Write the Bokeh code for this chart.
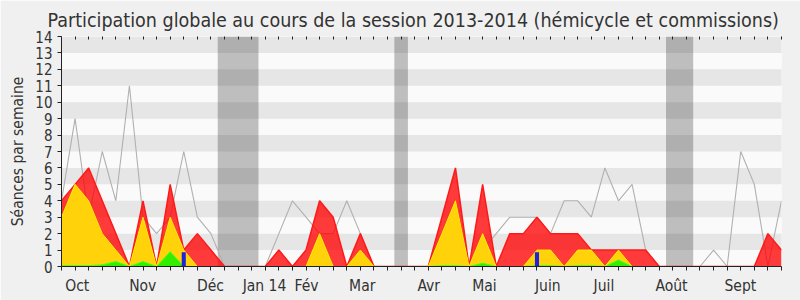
from bokeh.plotting import figure
from bokeh.models import Range1d, FixedTicker, LinearAxis, ColumnDataSource
from bokeh.embed import file_html
from bokeh.resources import INLINE

# ---- data (one value per week, session 2013-2014) ----
weeks = list(range(54))
presences = [4, 5, 6, 4, 2, 0, 4, 0, 5, 1, 2, 1, 0, 0, 0, 0, 1, 0, 1, 4,
             3, 0, 2, 0, 0, 0, 0, 0, 3, 6, 0, 5, 0, 2, 2, 3, 2, 2, 2, 1,
             1, 1, 1, 1, 0, 0, 0, 0, 0, 0, 0, 0, 2, 1]
participations = [3, 5, 4, 2, 1, 0, 3, 0, 3, 1, 0, 0, 0, 0, 0, 0, 0, 0, 0, 2,
                  0, 0, 1, 0, 0, 0, 0, 0, 2, 4, 0, 2, 0, 0, 0, 1, 1, 0, 1, 1,
                  0, 1, 0, 0, 0, 0, 0, 0, 0, 0, 0, 0, 0, 0]
interventions = [0.05, 0.05, 0.05, 0.1, 0.3, 0, 0.3, 0, 0.9, 0, 0, 0, 0, 0, 0, 0, 0, 0, 0, 0,
                 0, 0, 0, 0, 0, 0, 0, 0, 0.05, 0.05, 0, 0.2, 0, 0, 0, 0.05, 0.05, 0, 0.05, 0.05,
                 0, 0.4, 0, 0, 0, 0, 0, 0, 0, 0, 0, 0, 0, 0]
questions = [0, 0, 0, 0, 0, 0, 0, 0, 0, 0.87, 0, 0, 0, 0, 0, 0, 0, 0, 0, 0,
             0, 0, 0, 0, 0, 0, 0, 0, 0, 0, 0, 0, 0, 0, 0, 0.87, 0, 0, 0, 0,
             0, 0, 0, 0, 0, 0, 0, 0, 0, 0, 0, 0, 0, 0]
mediane = [4, 9, 3, 7, 4, 11, 3, 2, 3, 7, 3, 2, 0, 0, 0, 0, 2, 4, 3, 2,
           2, 4, 2, 0, 0, 0, 0, 0, 2, 4, 0, 1, 2, 3, 3, 3, 2, 4, 4, 3,
           6, 4, 5, 1, 0, 0, 0, 0, 1, 0, 7, 5, 0, 4]
vacances_debut = [11.5, 24.5, 44.5]
vacances_fin = [14.5, 25.5, 46.5]
mois_labels = ["Oct", "Nov", "Déc", "Jan 14", "Fév", "Mar", "Avr", "Mai", "Juin", "Juil", "Août", "Sept"]
mois_pos = [1.16, 5.98, 10.97, 14.94, 18.04, 22.14, 27.03, 31.13, 35.8, 39.93, 44.9, 49.97]
y_ticks = list(range(15))

FONT = "DejaVu Sans Condensed"

src = ColumnDataSource(dict(x=weeks, red=presences, yel=participations, grn=interventions,
                            blu=questions, med=mediane, zero=[0] * len(weeks)))

p = figure(width=800, height=300, x_range=Range1d(0, 53), y_range=Range1d(0, 14),
           output_backend="svg", toolbar_location=None,
           min_border_left=61, min_border_right=19, min_border_top=36, min_border_bottom=34)
p.border_fill_color = "#f0f0f0"
p.background_fill_color = "#fafafa"
p.outline_line_color = None
p.xgrid.visible = False
p.ygrid.visible = False

p.title.text = "Participation globale au cours de la session 2013-2014 (hémicycle et commissions)"
p.title.text_font = FONT
p.title.text_font_size = "19.5px"
p.title.text_font_style = "normal"
p.title.text_color = "#333333"
p.title.align = "left"
p.title.offset = -14

# stripes
odd = [v for v in y_ticks[1::2]]
p.quad(left=-1, right=54, bottom=odd, top=[v + 1 for v in odd], fill_color="#e6e6e6", line_color=None)
# holidays
p.quad(left=vacances_debut, right=vacances_fin, bottom=0, top=14, fill_color="black",
       fill_alpha=0.24, line_color=None)

# median line
p.line("x", "med", source=src, line_color="#b0b0b0", line_width=1.1)
# presences (red)
p.varea(x="x", y1="zero", y2="red", source=src, fill_color="#ff0000", fill_alpha=0.77)
p.line("x", "red", source=src, line_color="#ff1a1a", line_width=1.5)
# participations (yellow)
p.varea(x="x", y1="zero", y2="yel", source=src, fill_color="#ffd20a")
p.line("x", "yel", source=src, line_color="#ffee00", line_width=1)
# interventions (green)
p.varea(x="x", y1="zero", y2="grn", source=src, fill_color="#33ee00")
p.line("x", "grn", source=src, line_color="#44ff22", line_width=1)
# questions (blue)
p.vbar(x="x", top="blu", width=0.3, source=src, fill_color="#2222dd", line_color=None)

# axes
xa = p.xaxis[0]
xa.ticker = FixedTicker(ticks=mois_pos, minor_ticks=weeks)
xa.major_label_overrides = {pos: lab for pos, lab in zip(mois_pos, mois_labels)}
xa.major_tick_out = 0
xa.major_tick_in = 0
xa.minor_tick_out = 4
xa.minor_tick_in = 0
xa.axis_line_color = "#222222"
xa.minor_tick_line_color = "#222222"
xa.major_label_text_font = FONT
xa.major_label_text_font_size = "15.5px"
xa.major_label_text_color = "#333333"
xa.major_label_standoff = 6

ya = p.yaxis[0]
ya.ticker = FixedTicker(ticks=y_ticks, minor_ticks=[])
ya.major_tick_out = 4
ya.major_tick_in = 0
ya.axis_line_color = "#222222"
ya.major_tick_line_color = "#222222"
ya.major_label_text_font = FONT
ya.major_label_text_font_size = "15px"
ya.major_label_text_color = "#333333"
ya.axis_label = "Séances par semaine"
ya.axis_label_text_font = FONT
ya.axis_label_text_font_size = "15.5px"
ya.axis_label_text_font_style = "normal"
ya.axis_label_text_color = "#333333"
ya.axis_label_standoff = 5

top = LinearAxis(ticker=FixedTicker(ticks=[], minor_ticks=weeks))
top.axis_line_color = None
top.major_label_text_font_size = "0px"
top.minor_tick_in = 3
top.minor_tick_out = 0
top.minor_tick_line_color = "#222222"
p.add_layout(top, "above")

open("out.html", "w").write(file_html(p, INLINE))
